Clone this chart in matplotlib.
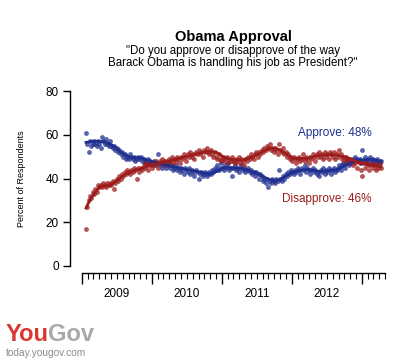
import numpy as np
import pandas as pd
import matplotlib
matplotlib.use("Agg")
from matplotlib import pyplot as plt
import matplotlib.dates as mdates
import matplotlib.transforms as mtransforms

plt.rcParams["font.family"] = ["Liberation Sans", "DejaVu Sans"]

# **weekly poll results (percent)**
poll_dates = pd.date_range("2009-01-21", periods=221, freq="7D")

approve = [
    61, 56, 52, 57, 55, 56, 57, 56, 55, 57, 56, 54, 59, 57, 56, 58, 56, 55, 57, 55,
    54, 55, 53, 54, 52, 53, 51, 52, 50, 51, 49, 50, 49, 51, 50, 49, 50, 48, 49, 50,
    49, 50, 48, 49, 47, 48, 49, 47, 48, 46, 47, 48, 46, 47, 51, 46, 47, 45, 46, 47,
    45, 46, 47, 45, 46, 44, 45, 46, 44, 45, 43, 45, 44, 42, 45, 44, 43, 45, 42, 44,
    43, 41, 44, 43, 40, 42, 43, 41, 42, 43, 41, 42, 43, 42, 44, 43, 45, 44, 46, 44,
    45, 47, 45, 44, 46, 45, 47, 44, 45, 41, 45, 46, 44, 45, 43, 45, 46, 44, 45, 43,
    44, 45, 43, 44, 42, 43, 41, 43, 42, 40, 42, 41, 39, 40, 38, 40, 36, 39, 38, 40,
    39, 38, 40, 39, 44, 40, 39, 41, 40, 42, 41, 43, 42, 44, 43, 42, 44, 43, 45, 44,
    42, 45, 44, 46, 43, 45, 44, 42, 44, 45, 43, 44, 42, 43, 41, 44, 43, 45, 42, 44,
    43, 45, 44, 42, 44, 45, 43, 44, 45, 46, 44, 46, 47, 45, 47, 48, 46, 48, 47, 49,
    48, 50, 49, 48, 49, 47, 53, 48, 50, 47, 49, 48, 50, 47, 49, 48, 47, 49, 48, 47,
    48,
]

disapprove = [
    17, 27, 30, 32, 31, 34, 33, 35, 34, 37, 36, 37, 36, 38, 37, 36, 38, 37, 38, 37,
    39, 35, 38, 40, 39, 41, 40, 42, 41, 43, 42, 44, 43, 42, 44, 43, 45, 44, 40, 45,
    43, 45, 44, 46, 45, 47, 44, 46, 47, 45, 47, 46, 48, 47, 45, 48, 47, 49, 48, 46,
    48, 47, 49, 48, 50, 47, 49, 48, 50, 49, 47, 50, 49, 51, 50, 48, 51, 50, 52, 50,
    51, 49, 52, 51, 53, 51, 52, 50, 53, 52, 54, 52, 51, 53, 51, 50, 52, 50, 49, 51,
    49, 48, 50, 49, 48, 50, 47, 49, 48, 50, 48, 47, 49, 48, 50, 47, 49, 48, 46, 49,
    48, 50, 49, 51, 50, 49, 51, 52, 50, 52, 51, 53, 52, 54, 53, 55, 54, 56, 53, 54,
    52, 54, 53, 51, 56, 53, 52, 54, 51, 52, 50, 51, 49, 50, 48, 50, 49, 47, 49, 50,
    48, 49, 51, 48, 50, 49, 47, 50, 49, 51, 50, 48, 51, 50, 52, 50, 51, 49, 52, 50,
    51, 49, 52, 51, 50, 52, 49, 51, 50, 53, 51, 49, 50, 48, 50, 49, 47, 49, 48, 46,
    48, 47, 45, 48, 47, 44, 41, 47, 45, 47, 46, 44, 46, 47, 45, 46, 44, 46, 45, 47,
    45,
]

# **smoothed trend lines**
trend_dates = pd.to_datetime([
    "2009-01-22", "2009-02-10", "2009-03-01", "2009-04-01", "2009-05-01",
    "2009-05-25", "2009-06-20", "2009-07-16", "2009-08-10", "2009-09-07",
    "2009-10-05", "2009-11-01", "2009-12-22", "2010-03-19", "2010-06-10",
    "2010-09-07", "2010-11-01", "2010-12-05", "2011-01-07", "2011-02-15",
    "2011-04-19", "2011-07-01", "2011-08-05", "2011-09-07", "2011-10-05",
    "2011-11-01", "2011-12-05", "2012-01-07", "2012-03-19", "2012-05-25",
    "2012-08-22", "2012-10-13", "2012-12-04", "2013-02-13", "2013-04-10",
])
approve_trend = [56.5, 56.8, 57, 57, 56.7, 56, 54.5, 52.5, 51, 49.8, 49.5, 49.5,
                 48, 46, 44.5, 43, 42, 43.2, 45, 45, 44.5, 42.5, 40.8, 39.5, 39.1,
                 39.5, 41.3, 43, 44.2, 43.2, 43.9, 46.2, 48.4, 48.7, 48]
disapprove_trend = [26.5, 30, 32.5, 36, 36.6, 36.8, 38.3, 40, 41.6, 43, 43.8, 44.3,
                    46, 47.7, 49.7, 51.5, 52.5, 51.8, 50, 48.7, 48.4, 50.7, 52.5,
                    53.8, 53.9, 53, 51, 49.2, 49.2, 50.7, 50.7, 49.7, 47.7, 46.2,
                    45.4]

years = [2009, 2010, 2011, 2012]

blue = "#1f2f8f"
red = "#9c1c1c"

fig = plt.figure(figsize=(4.2, 3.61), dpi=100)
ax = fig.add_axes([82 / 420, 95 / 361, 303 / 420, 175 / 361])

ax.scatter(poll_dates, approve, s=12, color=blue, alpha=0.75, lw=0, zorder=2)
ax.scatter(poll_dates, disapprove, s=12, color=red, alpha=0.75, lw=0, zorder=2)
ax.plot(trend_dates, approve_trend, color=blue, lw=2.0, zorder=3)
ax.plot(trend_dates, disapprove_trend, color=red, lw=2.0, zorder=3)

ax.text(pd.Timestamp("2013-02-20"), 61, "Approve: 48%", color=blue, ha="right",
        va="center", size=8.5)
ax.text(pd.Timestamp("2013-02-20"), 30.5, "Disapprove: 46%", color=red, ha="right",
        va="center", size=8.5)

x0, x1 = pd.Timestamp("2009-01-01"), pd.Timestamp("2013-05-01")
ax.set_xlim(x0, x1)
ax.set_ylim(0, 80)

for s in ["top", "right"]:
    ax.spines[s].set_visible(False)
ax.spines["left"].set_position(("outward", 8.6))
ax.spines["bottom"].set_position(("outward", 5))
ax.spines["left"].set_bounds(0, 80)
ax.spines["left"].set_linewidth(1.0)
ax.spines["bottom"].set_linewidth(1.0)

ax.set_yticks([0, 20, 40, 60, 80])
ax.tick_params(axis="y", length=5, width=1, labelsize=8.5, pad=3)
ax.set_ylabel("Percent of Respondents", size=6.5, labelpad=14)

ax.xaxis.set_major_locator(mdates.YearLocator())
ax.xaxis.set_minor_locator(mdates.MonthLocator())
ax.xaxis.set_major_formatter(plt.NullFormatter())
ax.tick_params(axis="x", which="major", length=8, width=1)
ax.tick_params(axis="x", which="minor", length=4.5, width=0.8)

trans = mtransforms.blended_transform_factory(ax.transData, ax.transAxes)
for yr in years:
    ax.text(pd.Timestamp(f"{yr}-07-02"), -0.16, str(yr), transform=trans,
            ha="center", va="center", size=8.5)

fig.text(233 / 420, 1 - 37 / 361, "Obama Approval", ha="center", va="center",
         size=10.5, weight="bold")
fig.text(233 / 420, 1 - 57 / 361,
         "\"Do you approve or disapprove of the way\nBarack Obama is handling his job as President?\"",
         ha="center", va="center", size=8.3, linespacing=1.05)

# logo: place "Gov" right after "You"
you = fig.text(6 / 420, 1 - 341 / 361, "You", color="#d8382e", size=17,
               weight="bold", ha="left", va="baseline")
renderer = fig.canvas.get_renderer()
bb = you.get_window_extent(renderer=renderer)
fig.text(bb.x1 / fig.bbox.width - 1 / 420, 1 - 341 / 361, "Gov", color="#a9a9a9",
         size=17, weight="bold", ha="left", va="baseline")
fig.text(6 / 420, 1 - 353 / 361, "today.yougov.com", color="#8c8c8c", size=7.3,
         ha="left", va="center")

plt.savefig("out.png", dpi=100)
